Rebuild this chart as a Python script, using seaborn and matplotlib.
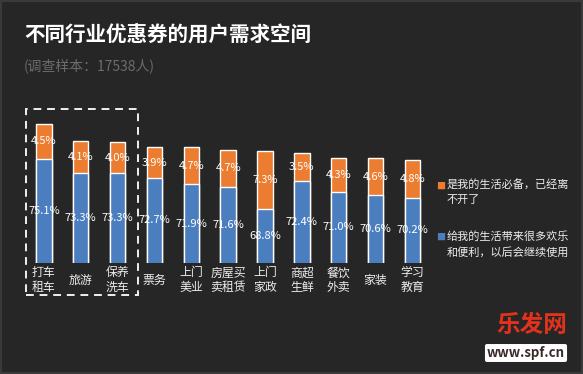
import matplotlib
matplotlib.use("Agg")
import matplotlib.pyplot as plt
import matplotlib.patches as mpatches
import pandas as pd
import seaborn as sns

# dados
categorias = ["打车\n租车", "旅游", "保养\n洗车", "票务", "上门\n美业", "房屋买\n卖租赁",
              "上门\n家政", "商超\n生鲜", "餐饮\n外卖", "家装", "学习\n教育"]
continuar_uso = [75.1, 73.3, 73.3, 72.7, 71.9, 71.6, 68.8, 72.4, 71.0, 70.6, 70.2]
necessario = [4.5, 4.1, 4.0, 3.9, 4.7, 4.7, 7.3, 3.5, 4.3, 4.6, 4.8]
legenda = ["是我的生活必备，已经离\n不开了", "给我的生活带来很多欢乐\n和便利，以后会继续使用"]

titulo = "不同行业优惠券的用户需求空间"
subtitulo = "(调查样本：17538人)"

BG = "#262626"
AZUL = "#4a7ebf"
LARANJA = "#ec7c30"
TXT = "#ececec"

sns.set_theme(style="dark")
plt.rcParams["font.family"] = ["Noto Sans CJK SC", "DejaVu Sans"]

df = pd.DataFrame({"cat": categorias, "azul": continuar_uso, "laranja": necessario})
df["total"] = df["azul"] + df["laranja"]

W, H = 583, 374
fig = plt.figure(figsize=(W / 100, H / 100), dpi=100, facecolor=BG)

# eixo: base das barras em y=262.7px, centros de 43.8px a 412.5px
x0, x1 = 25.4, 430.9
yb, yt = 262.7, 113.0
ax = fig.add_axes([x0 / W, 1 - yb / H, (x1 - x0) / W, (yb - yt) / H])
ax.set_facecolor(BG)

sns.barplot(data=df, x="cat", y="total", color=LARANJA, width=0.42, saturation=1, ax=ax)
sns.barplot(data=df, x="cat", y="azul", color=AZUL, width=0.42, saturation=1, ax=ax)

# eixo truncado em 62%
ax.set_ylim(62, 62 + (yb - yt) / 7.9)
ax.set_xlim(-0.5, len(categorias) - 0.5)
ax.set_xticks([])
ax.set_yticks([])
ax.set_xlabel("")
ax.set_ylabel("")
for s in ax.spines.values():
    s.set_visible(False)

for i, (b, o) in enumerate(zip(continuar_uso, necessario)):
    ax.text(i, (62 + b) / 2, f"{b}%", ha="center", va="center", color="white",
            fontsize=8, zorder=5)
    ax.text(i, b + o / 2, f"{o}%", ha="center", va="center", color="white",
            fontsize=8, zorder=5)
    ax.text(i, -17.3 / (yb - yt), categorias[i], transform=ax.get_xaxis_transform(),
            ha="center", va="center", color=TXT, fontsize=8.6, linespacing=1.15)

# caixa tracejada nos 3 primeiros
box = mpatches.Rectangle((25.7 / W, 1 - 295 / H), (138.3 - 25.7) / W, (295 - 109) / H,
                         transform=fig.transFigure, fill=False, ec="#f0f0f0", lw=1.4,
                         ls=(0, (4, 3)))
fig.patches.append(box)

# titulo
fig.text(24 / W, 1 - 35 / H, titulo, color="white", fontsize=14.8, fontweight="bold",
         ha="left", va="center")
fig.text(24 / W, 1 - 66 / H, subtitulo, color="#6c6c6c", fontsize=10, ha="left", va="center")

# legenda manual
for lab, cor, yy in [(legenda[0], LARANJA, 186), (legenda[1], AZUL, 237)]:
    fig.text(441 / W, 1 - yy / H, "■", color=cor, fontsize=6.5, ha="center", va="center")
    fig.text(446.5 / W, 1 - (yy - 6) / H, lab, color=TXT, fontsize=8, ha="left", va="top",
             linespacing=1.55)

# marca d'agua
fig.text(532 / W, 1 - 325 / H, "乐发网", color="#e2321c", fontsize=17, fontweight="bold",
         ha="center", va="center")
fig.text(526 / W, 1 - 353 / H, "www.spf.cn", color="#3a2a2a", fontsize=9.5, fontweight="bold",
         ha="center", va="center",
         bbox=dict(boxstyle="round,pad=0.15", fc="white", ec="none"))

# moldura
fig.patches.append(mpatches.Rectangle((0, 0), 1, 1, transform=fig.transFigure, fill=False,
                                      ec="#3a3a3a", lw=3))

fig.savefig("out.png", dpi=100, facecolor=BG)
